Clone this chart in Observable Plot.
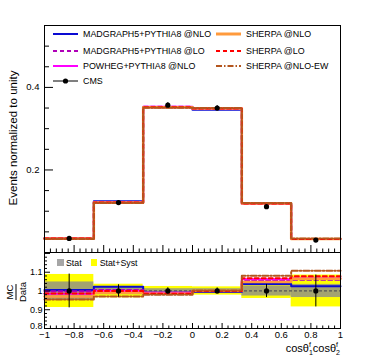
<!DOCTYPE html>
<html><head><meta charset="utf-8">
<script src="https://cdn.jsdelivr.net/npm/d3@7"></script>
<script src="https://cdn.jsdelivr.net/npm/@observablehq/plot@0.6"></script>
<style>
body{margin:0;background:#fff;font-family:"Liberation Sans",Arial,sans-serif;}
#wrap{position:relative;width:370px;height:360px;overflow:hidden;background:#fff;}
#top,#ratio{position:absolute;left:0;}
#top{top:0}
#ratio{top:252px}
.lab{position:absolute;white-space:nowrap;color:#000;line-height:1;}
.leg{position:absolute;display:flex;align-items:center;white-space:nowrap;font-size:8.9px;transform:translateY(-50%);}
.leg svg{margin-right:5px;}
</style></head><body>
<div id="wrap">
  <div id="top"></div>
  <div id="ratio"></div>
</div>
<script>
// ---------------- data ----------------
const binEdges   = [-1, -0.6667, -0.3333, 0, 0.3333, 0.6667, 1];
const binCenters = [-0.8333, -0.5, -0.1667, 0.1667, 0.5, 0.8333];
const seriesNames = ["MADGRAPH5+PYTHIA8 @NLO","MADGRAPH5+PYTHIA8 @LO","POWHEG+PYTHIA8 @NLO","SHERPA @NLO","SHERPA @LO","SHERPA @NLO-EW"];
// normalized distributions
const mgNLO     = [0.035, 0.124, 0.352, 0.346, 0.119, 0.033];
const mgLO      = [0.034, 0.122, 0.353, 0.348, 0.118, 0.033];
const powheg    = [0.034, 0.121, 0.353, 0.349, 0.118, 0.033];
const sherpaNLO = [0.034, 0.121, 0.352, 0.349, 0.119, 0.033];
const sherpaLO  = [0.034, 0.121, 0.352, 0.349, 0.119, 0.033];
const sherpaEW  = [0.033, 0.120, 0.351, 0.350, 0.120, 0.034];
const cmsData   = [0.034, 0.121, 0.357, 0.350, 0.111, 0.030];
const cmsErr    = [0.003, 0.004, 0.006, 0.006, 0.004, 0.0025];
// MC / Data ratios
const rMgNLO     = [1.005, 1.022, 0.990, 0.995, 1.037, 1.025];
const rMgLO      = [0.998, 1.005, 0.990, 1.000, 1.055, 1.060];
const rPowheg    = [0.985, 1.000, 0.990, 1.000, 1.062, 1.068];
const rSherpaNLO = [0.970, 0.990, 0.985, 1.000, 1.048, 1.065];
const rSherpaLO  = [0.987, 1.000, 0.985, 1.000, 1.068, 1.078];
const rSherpaEW  = [0.955, 0.970, 0.980, 1.003, 1.081, 1.108];
const errStat    = [0.048, 0.020, 0.012, 0.012, 0.027, 0.035];
const errTotal   = [0.088, 0.036, 0.024, 0.022, 0.040, 0.085];
const ratioErr   = [0.090, 0.033, 0.017, 0.016, 0.035, 0.085];
// ticks
const xMajor = [-1,-0.8,-0.6,-0.4,-0.2,0,0.2,0.4,0.6,0.8,1];
const xMinor = [-0.96,-0.92,-0.88,-0.84,-0.76,-0.72,-0.68,-0.64,-0.56,-0.52,-0.48,-0.44,-0.36,-0.32,-0.28,-0.24,-0.16,-0.12,-0.08,-0.04,0.04,0.08,0.12,0.16,0.24,0.28,0.32,0.36,0.44,0.48,0.52,0.56,0.64,0.68,0.72,0.76,0.84,0.88,0.92,0.96];
const yTopMajor = [0.2, 0.4];
const yTopMinor = [0.05,0.1,0.15,0.25,0.3,0.35,0.45,0.5];
const yRatioMajor = [0.8, 0.9, 1, 1.1, 1.2];
const yRatioLabels = [0.9, 1, 1.1];
const yRatioLowLabel = [0.8];
const yRatioMinor = [0.82,0.84,0.86,0.88,0.92,0.94,0.96,0.98,1.02,1.04,1.06,1.08,1.12,1.14,1.16,1.18];

// ---------------- styles ----------------
const styles = [
  {color:"#0a0ad2", width:2,   dash:null},
  {color:"#b000b8", width:2,   dash:"4,3"},
  {color:"#ff00ff", width:2,   dash:null},
  {color:"#ff9a3c", width:2.5, dash:null},
  {color:"#ff0000", width:2,   dash:"4,3"},
  {color:"#b4561e", width:2,   dash:"6,2,1.5,2"}
];
const legendWidths = [2, 2, 2, 3, 2, 2];
const topSeries = [mgNLO, mgLO, powheg, sherpaNLO, sherpaLO, sherpaEW];
const ratioSeries = [rMgNLO, rMgLO, rPowheg, rSherpaNLO, rSherpaLO, rSherpaEW];

const W = 370, ML = 44, MR = 30;
const PW = W - ML - MR;
const font = '"Liberation Sans", Arial, sans-serif';
const fmt = d => String(d).replace("-", "\u2212");

function hist(values){
  return binEdges.map((e,i)=>({x:e, y: values[Math.min(i, values.length-1)]}));
}
function histMarks(series){
  return series.map((vals,i)=>Plot.line(hist(vals), {
    x:"x", y:"y", curve:"step-after", stroke:styles[i].color,
    strokeWidth:styles[i].width, strokeDasharray:styles[i].dash
  }));
}
const pts = (vals, err) => binCenters.map((c,i)=>({x:c, y:vals[i], lo:vals[i]-err[i], hi:vals[i]+err[i]}));

// ---------------- top panel ----------------
const TH = 252, TMT = 25;
const TPH = TH - TMT;
const topPlot = Plot.plot({
  width: W, height: TH, marginTop: TMT, marginBottom: 0, marginLeft: ML, marginRight: MR,
  x: {domain:[-1,1], axis:null},
  y: {domain:[0,0.55], axis:null},
  style: {fontFamily: font, fontSize: "9.5px", background:"transparent", overflow:"visible", color:"#000"},
  marks: [
    ...histMarks(topSeries),
    Plot.ruleX(pts(cmsData, cmsErr), {x:"x", y1:"lo", y2:"hi", stroke:"#000", strokeWidth:1}),
    Plot.dot(pts(cmsData, cmsErr), {x:"x", y:"y", r:2.6, fill:"#000", stroke:null}),
    Plot.tickY(yTopMajor, {y:d=>d, insetRight: PW-9, stroke:"#000"}),
    Plot.tickY(yTopMinor, {y:d=>d, insetRight: PW-5, stroke:"#000"}),
    Plot.tickX(xMajor, {x:d=>d, insetTop: TPH-7, stroke:"#000"}),
    Plot.tickX(xMinor, {x:d=>d, insetTop: TPH-3.5, stroke:"#000"}),
    Plot.axisY(yTopMajor, {tickSize:0, tickPadding:5, tickFormat:fmt, label:null, fontSize:9.5}),
    Plot.frame({stroke:"#000", strokeWidth:1})
  ]
});
document.getElementById("top").appendChild(topPlot);

// ---------------- ratio panel ----------------
const RH = 108, RMB = 32;
const RPH = RH - RMB;
const bands = binEdges.slice(0,-1).map((e,i)=>({x1:e, x2:binEdges[i+1],
  t1:1-errTotal[i], t2:1+errTotal[i], s1:1-errStat[i], s2:1+errStat[i]}));
const ratioPlot = Plot.plot({
  width: W, height: RH, marginTop: 0, marginBottom: RMB, marginLeft: ML, marginRight: MR,
  x: {domain:[-1,1], axis:null},
  y: {domain:[0.8,1.205], axis:null},
  style: {fontFamily: font, fontSize: "9px", background:"transparent", overflow:"visible", color:"#000"},
  marks: [
    Plot.rect(bands, {x1:"x1", x2:"x2", y1:"t1", y2:"t2", fill:"#ffff00"}),
    Plot.rect(bands, {x1:"x1", x2:"x2", y1:"s1", y2:"s2", fill:"#8c8c8c", fillOpacity:0.8}),
    Plot.ruleY([1], {stroke:"#555", strokeWidth:1.2, strokeDasharray:"3,2"}),
    ...histMarks(ratioSeries),
    Plot.ruleX(pts(Array(6).fill(1), ratioErr), {x:"x", y1:"lo", y2:"hi", stroke:"#000", strokeWidth:1}),
    Plot.dot(pts(Array(6).fill(1), ratioErr), {x:"x", y:"y", r:2.6, fill:"#000", stroke:null}),
    Plot.tickY(yRatioMajor, {y:d=>d, insetRight: PW-6, stroke:"#000"}),
    Plot.tickY(yRatioMinor, {y:d=>d, insetRight: PW-3, stroke:"#000"}),
    Plot.tickX(xMajor, {x:d=>d, insetTop: RPH-5, stroke:"#000"}),
    Plot.tickX(xMinor, {x:d=>d, insetTop: RPH-2.5, stroke:"#000"}),
    Plot.axisY(yRatioLabels, {tickSize:0, tickPadding:2, tickFormat:fmt, label:null, fontSize:9}),
    Plot.axisY(yRatioLowLabel, {tickSize:0, tickPadding:2, tickFormat:fmt, label:null, fontSize:9, dy:-2.5}),
    Plot.axisX(xMajor, {tickSize:0, tickPadding:3, tickFormat:fmt, label:null, fontSize:9.5}),
    Plot.frame({stroke:"#000", strokeWidth:1})
  ]
});
document.getElementById("ratio").appendChild(ratioPlot);

// ---------------- texts & legends ----------------
const wrap = document.getElementById("wrap");
function addHTML(html, css){
  const d = document.createElement("div");
  d.className = "lab";
  d.innerHTML = html;
  Object.assign(d.style, css);
  wrap.appendChild(d);
  return d;
}
// y title
addHTML("Events normalized to unity", {left:"14px", top:"138px", fontSize:"11.5px",
  transform:"translate(-50%,-50%) rotate(-90deg)"});
// MC/Data
addHTML('<div style="display:inline-flex;flex-direction:column;align-items:center;font-size:9.5px;line-height:1">'+
  '<span style="padding:0 1px 1px 1px;border-bottom:1px solid #000">MC</span><span style="padding-top:1px">Data</span></div>',
  {left:"13px", top:"292px", transform:"translate(-50%,-50%) rotate(-90deg)"});
// x title
addHTML('cosθ<span style="position:relative"><sup style="font-size:7px;position:absolute;top:-1px;left:0">f</sup><sub style="font-size:7px;vertical-align:-3px">1</sub></span>cosθ<span style="position:relative"><sup style="font-size:7px;position:absolute;top:-1px;left:0">f</sup><sub style="font-size:7px;vertical-align:-3px">2</sub></span>',
  {right:"30px", top:"343px", fontSize:"11px"});

function swatch(st, w){
  return `<svg width="25" height="8"><line x1="0" y1="4" x2="25" y2="4" stroke="${st.color}" stroke-width="${w}" ${st.dash?`stroke-dasharray="${st.dash}"`:""}/></svg>`;
}
const legRows = [34.3, 50.5, 65.8, 81];
seriesNames.forEach((name,i)=>{
  const col = i<3 ? 53 : 216;
  const row = i%3;
  const d = document.createElement("div");
  d.className="leg";
  d.style.left = col+"px"; d.style.top = legRows[row]+"px";
  d.innerHTML = swatch(styles[i], legendWidths[i]) + `<span>${name}</span>`;
  wrap.appendChild(d);
});
{
  const d = document.createElement("div");
  d.className="leg";
  d.style.left="53px"; d.style.top=legRows[3]+"px";
  d.innerHTML = `<svg width="25" height="8"><line x1="0" y1="4" x2="25" y2="4" stroke="#000" stroke-width="1"/><circle cx="12.5" cy="4" r="2.6" fill="#000"/></svg><span>CMS</span>`;
  wrap.appendChild(d);
}
// ratio legend
{
  const d = document.createElement("div");
  d.className="leg";
  d.style.left="57px"; d.style.top="262.5px"; d.style.fontSize="8.8px";
  d.innerHTML = `<span style="display:inline-block;width:6.5px;height:6.5px;background:#a6a6a6;margin-right:2.5px"></span><span>Stat</span>`+
    `<span style="display:inline-block;width:6.5px;height:6.5px;background:#ffff00;margin:0 2.5px 0 9px"></span><span>Stat+Syst</span>`;
  wrap.appendChild(d);
}
</script>
</body></html>
